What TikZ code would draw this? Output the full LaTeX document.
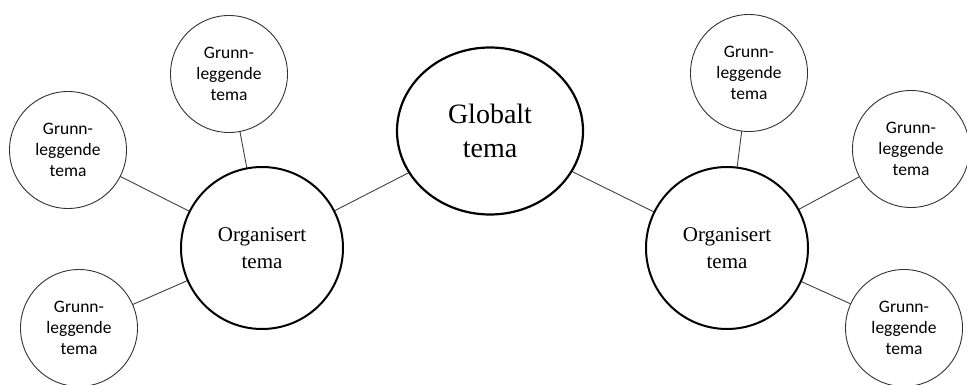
\documentclass[tikz,border=0pt]{standalone}
\usepackage{fontspec}
\setmainfont{Liberation Serif}
\newfontfamily\smallfont{Carlito}
\usetikzlibrary{shapes.geometric}
\begin{document}
\begin{tikzpicture}[x=1pt,y=-1pt,
  bigcirc/.style={circle,draw=black,line width=2pt,fill=white,minimum size=162pt,inner sep=0pt,align=center,font=\fontsize{21}{27}\selectfont},
  globnode/.style={ellipse,draw=black,line width=2.2pt,fill=white,minimum width=186pt,minimum height=167pt,inner sep=0pt,align=center,font=\fontsize{28}{34}\selectfont},
  leaf/.style={circle,draw=black!80,line width=0.9pt,fill=white,minimum size=117pt,inner sep=0pt,align=center,font=\smallfont\fontsize{17.5}{21}\selectfont},
  link/.style={draw=black!75,line width=0.9pt}]
\clip (0,0) rectangle (967,385);
\useasboundingbox (0,0) rectangle (967,385);
% connectors first (drawn beneath)
\coordinate (gc) at (490,131);
\coordinate (olc) at (262,248);
\coordinate (orc) at (727,248);
\coordinate (l1c) at (229,74);
\coordinate (l2c) at (68,150);
\coordinate (l3c) at (79,328);
\coordinate (r1c) at (749,73);
\coordinate (r2c) at (911,149);
\coordinate (r3c) at (904,328);
\path[link] (gc) -- (olc) (gc) -- (orc)
  (olc) -- (l1c) (olc) -- (l2c) (olc) -- (l3c)
  (orc) -- (r1c) (orc) -- (r2c) (orc) -- (r3c);
\node[globnode] (g) at (gc) {Globalt\\tema};
\node[bigcirc] (ol) at (olc) {Organisert\\tema};
\node[bigcirc] (or) at (orc) {Organisert\\tema};
\node[leaf] (l1) at (l1c) {Grunn-\\leggende\\tema};
\node[leaf] (l2) at (l2c) {Grunn-\\leggende\\tema};
\node[leaf] (l3) at (l3c) {Grunn-\\leggende\\tema};
\node[leaf] (r1) at (r1c) {Grunn-\\leggende\\tema};
\node[leaf] (r2) at (r2c) {Grunn-\\leggende\\tema};
\node[leaf] (r3) at (r3c) {Grunn-\\leggende\\tema};
\end{tikzpicture}
\end{document}
